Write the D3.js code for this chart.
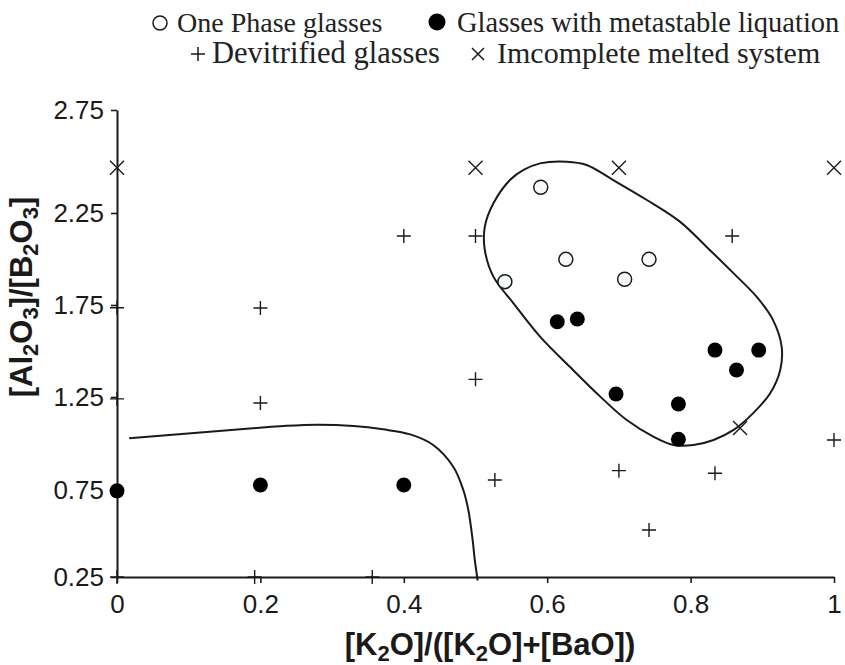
<!DOCTYPE html>
<html>
<head>
<meta charset="utf-8">
<script src="https://cdn.jsdelivr.net/npm/d3@7"></script>
<style>
  body { margin: 0; background: #fff; }
  .axis path, .axis line { stroke: #1a1a1a; }
  .axis text { font-family: "Liberation Sans", Arial, sans-serif; font-size: 26px; fill: #1a1a1a; }
</style>
</head>
<body>
<div id="chart"></div>
<script>
// x = [K2O]/([K2O]+[BaO]),  y = [Al2O3]/[B2O3]
var xTicks = [0, 0.2, 0.4, 0.6, 0.8, 1];
var xLabels = ["0", "0.2", "0.4", "0.6", "0.8", "1"];
var yTicks = [0.25, 0.75, 1.25, 1.75, 2.25, 2.75];
var yLabels = ["0.25", "0.75", "1.25", "1.75", "2.25", "2.75"];

var legendLabels = ["One Phase glasses", "Glasses with metastable liquation",
                    "Devitrified glasses", "Imcomplete melted system"];

var onePhase = [[0.591, 2.375], [0.626, 1.998], [0.742, 1.998], [0.708, 1.890], [0.541, 1.877]];

var metastable = [[0, 0.745], [0.2, 0.777], [0.4, 0.777],
                  [0.614, 1.659], [0.642, 1.674], [0.834, 1.505], [0.895, 1.505],
                  [0.864, 1.397], [0.696, 1.266], [0.783, 1.212], [0.783, 1.023]];

var devitrified = [[0.2, 1.734], [0.2, 1.218], [0.4, 2.125], [0.5, 2.125], [0.858, 2.125],
                   [0.5, 1.346], [0.527, 0.804], [0.7, 0.854], [0.834, 0.840], [0.742, 0.52],
                   [1.0, 1.019], [0, 1.735], [0, 1.24], [0, 0.25], [0.192, 0.25], [0.356, 0.25]];

var incomplete = [[0, 2.47], [0.5, 2.47], [0.7, 2.47], [1.0, 2.47], [0.869, 1.083]];

// boundary of the immiscibility region (low K2O side)
var lowerBoundary = [[0.017, 1.028], [0.199, 1.085], [0.232, 1.094], [0.279, 1.101], [0.330, 1.094],
                     [0.371, 1.076], [0.409, 1.049], [0.441, 0.992], [0.469, 0.875], [0.483, 0.75],
                     [0.490, 0.635], [0.496, 0.463], [0.499, 0.348], [0.503, 0.23]];

// closed loop round the liquation glasses
var loopBoundary = [[0.590, 2.491], [0.627, 2.499], [0.655, 2.483], [0.692, 2.410], [0.739, 2.313],
                    [0.785, 2.203], [0.822, 2.067], [0.860, 1.922], [0.892, 1.795], [0.915, 1.668],
                    [0.927, 1.523], [0.925, 1.397], [0.911, 1.270], [0.887, 1.162], [0.860, 1.073],
                    [0.832, 1.019], [0.804, 0.992], [0.776, 0.992], [0.748, 1.037], [0.711, 1.126],
                    [0.674, 1.252], [0.636, 1.397], [0.590, 1.578], [0.553, 1.759], [0.525, 1.904],
                    [0.513, 2.049], [0.513, 2.176], [0.525, 2.297], [0.548, 2.410], [0.567, 2.459]];

const width = 845, height = 665;
const ink = "#1a1a1a";

const svg = d3.select("#chart").append("svg")
    .attr("width", width)
    .attr("height", height);

var x = d3.scaleLinear().domain([0, 1]).range([117, 834]);
// the scanned figure is not evenly spaced vertically, so one segment per label
var y = d3.scaleLinear().domain(yTicks).range([577, 490, 397, 305, 213, 110]);

// axes
svg.append("g")
    .attr("class", "axis")
    .attr("transform", `translate(0,${y(0.25)})`)
    .call(d3.axisBottom(x).tickValues(xTicks).tickSize(6).tickSizeOuter(0).tickPadding(12)
        .tickFormat((d, i) => xLabels[i]));

svg.append("g")
    .attr("class", "axis")
    .attr("transform", `translate(${x(0)},0)`)
    .call(d3.axisLeft(y).tickValues(yTicks).tickSize(6).tickSizeOuter(0).tickPadding(7)
        .tickFormat((d, i) => yLabels[i]));

svg.selectAll(".axis path").attr("stroke-width", 2);
svg.selectAll(".axis line").attr("stroke-width", 1.6);

// boundaries
svg.append("path")
    .datum(lowerBoundary)
    .attr("fill", "none")
    .attr("stroke", ink)
    .attr("stroke-width", 2)
    .attr("d", d3.line().x(d => x(d[0])).y(d => y(d[1])).curve(d3.curveCatmullRom));

svg.append("path")
    .datum(loopBoundary)
    .attr("fill", "none")
    .attr("stroke", ink)
    .attr("stroke-width", 2)
    .attr("d", d3.line().x(d => x(d[0])).y(d => y(d[1])).curve(d3.curveCatmullRomClosed));

// markers
const plusPath = "M-7,0H7M0,-7V7";
const crossPath = "M-7,-7L7,7M-7,7L7,-7";

svg.selectAll("path.devit")
    .data(devitrified)
    .enter().append("path")
    .attr("class", "devit")
    .attr("d", plusPath)
    .attr("transform", d => `translate(${x(d[0])},${y(d[1])})`)
    .attr("stroke", ink)
    .attr("stroke-width", 1.4)
    .attr("fill", "none");

svg.selectAll("path.incomp")
    .data(incomplete)
    .enter().append("path")
    .attr("class", "incomp")
    .attr("d", crossPath)
    .attr("transform", d => `translate(${x(d[0])},${y(d[1])})`)
    .attr("stroke", ink)
    .attr("stroke-width", 1.4)
    .attr("fill", "none");

svg.selectAll("circle.one")
    .data(onePhase)
    .enter().append("circle")
    .attr("class", "one")
    .attr("cx", d => x(d[0]))
    .attr("cy", d => y(d[1]))
    .attr("r", 7)
    .attr("fill", "#f6f9f9")
    .attr("stroke", ink)
    .attr("stroke-width", 1.5);

svg.selectAll("circle.meta")
    .data(metastable)
    .enter().append("circle")
    .attr("class", "meta")
    .attr("cx", d => x(d[0]))
    .attr("cy", d => y(d[1]))
    .attr("r", 7.5)
    .attr("fill", "#000");

// axis titles
const xt = svg.append("text")
    .attr("x", 490)
    .attr("y", 655)
    .attr("text-anchor", "middle")
    .style("font-family", "Liberation Sans, Arial, sans-serif")
    .style("font-weight", "bold")
    .style("font-size", "31px")
    .attr("fill", ink);
xt.append("tspan").text("[K");
xt.append("tspan").text("2").attr("dy", 6).style("font-size", "22px");
xt.append("tspan").text("O]/([K").attr("dy", -6);
xt.append("tspan").text("2").attr("dy", 6).style("font-size", "22px");
xt.append("tspan").text("O]+[BaO])").attr("dy", -6);

const yt = svg.append("text")
    .attr("transform", "translate(32,297) rotate(-90)")
    .attr("text-anchor", "middle")
    .style("font-family", "Liberation Sans, Arial, sans-serif")
    .style("font-weight", "bold")
    .style("font-size", "31px")
    .attr("fill", ink);
yt.append("tspan").text("[Al");
yt.append("tspan").text("2").attr("dy", 6).style("font-size", "22px");
yt.append("tspan").text("O").attr("dy", -6);
yt.append("tspan").text("3").attr("dy", 6).style("font-size", "22px");
yt.append("tspan").text("]/[B").attr("dy", -6);
yt.append("tspan").text("2").attr("dy", 6).style("font-size", "22px");
yt.append("tspan").text("O").attr("dy", -6);
yt.append("tspan").text("3").attr("dy", 6).style("font-size", "22px");
yt.append("tspan").text("]").attr("dy", -6);

// legend
const legend = svg.append("g");
const legendFamily = "Liberation Serif, Times New Roman, serif";

function legendText(label, lx, ly, size) {
    legend.append("text")
        .attr("x", lx)
        .attr("y", ly)
        .style("font-family", legendFamily)
        .style("font-size", size)
        .attr("fill", "#222")
        .text(label);
}

legend.append("circle").attr("cx", 160).attr("cy", 23).attr("r", 7)
    .attr("fill", "#fff").attr("stroke", ink).attr("stroke-width", 1.5);
legendText(legendLabels[0], 177, 32, "28px");

legend.append("circle").attr("cx", 437).attr("cy", 22).attr("r", 8.5).attr("fill", "#000");
legendText(legendLabels[1], 457, 32, "28.5px");

legend.append("path").attr("d", plusPath).attr("transform", "translate(198,54)")
    .attr("stroke", ink).attr("stroke-width", 1.5);
legendText(legendLabels[2], 212, 63, "30.5px");

legend.append("path").attr("d", "M-6,-6L6,6M-6,6L6,-6").attr("transform", "translate(478,54)")
    .attr("stroke", ink).attr("stroke-width", 1.5);
legendText(legendLabels[3], 497, 63, "30px");
</script>
</body>
</html>
